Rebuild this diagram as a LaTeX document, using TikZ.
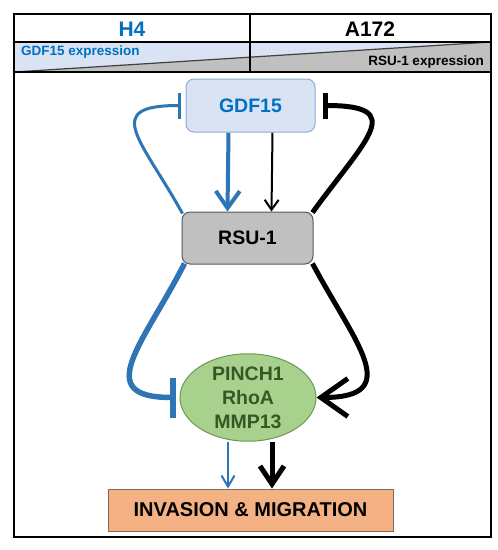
\documentclass[tikz,border=0pt]{standalone}
\usepackage{fontspec}
\setmainfont{Liberation Sans}
\usetikzlibrary{arrows.meta}
\usetikzlibrary{shapes.geometric}
\pgfdeclarelayer{edgelayer}
\pgfdeclarelayer{nodelayer}
\pgfsetlayers{edgelayer,nodelayer,main}
\definecolor{gdfblue}{HTML}{0070C0}
\definecolor{lineblue}{HTML}{2E75B6}
\definecolor{paleblue}{HTML}{DAE3F3}
\definecolor{edgeblue}{HTML}{8FAADC}
\definecolor{hubgray}{HTML}{C0C0C0}
\definecolor{ovalgreen}{HTML}{A9D18E}
\definecolor{ovaledge}{HTML}{6A9A4A}
\definecolor{darkgreen}{HTML}{385723}
\definecolor{salmon}{HTML}{F4B183}
\definecolor{salmonedge}{HTML}{7F6A5A}
\tikzstyle{gene_box}=[rectangle,rounded corners=8pt,fill=paleblue,draw=edgeblue,line width=1pt,minimum width=129pt,minimum height=53pt,text=gdfblue,font=\bfseries\fontsize{19.5}{23}\selectfont]
\tikzstyle{hub_box}=[rectangle,rounded corners=8pt,fill=hubgray,draw=black!65,line width=1pt,minimum width=131pt,minimum height=52pt,font=\bfseries\fontsize{19.5}{23}\selectfont]
\tikzstyle{target_oval}=[ellipse,fill=ovalgreen,draw=ovaledge,line width=1pt,minimum width=136pt,minimum height=81pt,inner sep=0pt,align=center,text=darkgreen,font=\bfseries\fontsize{19.5}{24}\selectfont]
\tikzstyle{outcome_box}=[rectangle,fill=salmon,draw=salmonedge,line width=1pt,minimum width=285pt,minimum height=42pt,font=\bfseries\fontsize{20}{24}\selectfont]
\tikzstyle{cell_label}=[font=\bfseries\fontsize{21}{25}\selectfont]
\tikzstyle{expr_label}=[inner sep=0pt,font=\bfseries\fontsize{13.5}{16}\selectfont]
\tikzstyle{blue_activation}=[draw=lineblue,line width=4pt,-{Straight Barb[length=17pt,width=24pt]}]
\tikzstyle{blue_thin_activation}=[draw=lineblue,line width=2pt,-{Straight Barb[length=11pt,width=13pt]}]
\tikzstyle{black_activation}=[draw=black,line width=2pt,-{Straight Barb[length=10pt,width=14pt]}]
\tikzstyle{black_thick_activation}=[draw=black,line width=5pt,-{Straight Barb[length=18pt,width=24pt]}]
\tikzstyle{black_big_activation}=[draw=black,line width=5pt,-{Straight Barb[length=27pt,width=38pt]}]
\tikzstyle{blue_inhibition}=[draw=lineblue,line width=3pt,-{Bar[width=26pt]}]
\tikzstyle{blue_thick_inhibition}=[draw=lineblue,line width=5.5pt,-{Bar[width=40pt]}]
\tikzstyle{black_inhibition}=[draw=black,line width=5pt,-{Bar[width=26pt]}]

\begin{document}
\begin{tikzpicture}[x=1pt,y=-1pt]
	\useasboundingbox (0,0) rectangle (498,550);
	\begin{pgfonlayer}{edgelayer}
		\fill [paleblue] (14,42) -- (491,42) -- (14,72) -- cycle;
		\fill [hubgray] (14,72) -- (491,42) -- (491,72) -- cycle;
		\draw [black!75, line width=1.2pt] (14,72) -- (491,42);
	\end{pgfonlayer}
	\begin{pgfonlayer}{nodelayer}
		\node [style=cell_label, text=gdfblue] (4) at (132, 29) {H4};
		\node [style=cell_label] (5) at (370, 29) {A172};
		\node [style=expr_label, text=gdfblue, anchor=west] (6) at (21, 52) {GDF15 expression};
		\node [style=expr_label, anchor=east] (7) at (484, 62) {RSU-1 expression};
		\node [style=gene_box] (0) at (250.5, 105.5) {GDF15};
		\node [style=hub_box] (1) at (247.5, 238) {RSU-1};
		\node [style=target_oval] (2) at (248, 397.5) {PINCH1\\RhoA\\MMP13};
		\node [style=outcome_box] (3) at (250.5, 510) {INVASION \& MIGRATION};
	\end{pgfonlayer}
	\begin{pgfonlayer}{edgelayer}
		\draw [style=blue_activation] ([xshift=-22pt]0.south) to ([xshift=-20pt]1.north);
		\draw [style=black_activation] ([xshift=22pt]0.south) to ([xshift=24pt]1.north);
		\draw [style=blue_inhibition, out=119, in=180, looseness=2.00, shorten >=5pt] ([xshift=1pt,yshift=-2pt]1.north west) to (0.west);
		\draw [style=black_inhibition, out=54, in=0, looseness=2.20, shorten >=7pt] ([xshift=-1pt,yshift=-1pt]1.north east) to (0.east);
		\draw [style=blue_thick_inhibition, out=243, in=180, looseness=1.70, shorten >=4pt] ([xshift=3pt,yshift=1pt]1.south west) to (2.west);
		\draw [style=black_big_activation, out=-62, in=0, looseness=1.70] ([xshift=-1pt,yshift=1pt]1.south east) to (2.east);
		\draw [style=blue_thin_activation] ([xshift=-20pt]2.south) to ([xshift=-22.5pt]3.north);
		\draw [style=black_thick_activation] ([xshift=24pt]2.south) to ([xshift=21.5pt]3.north);
	\end{pgfonlayer}
	\draw [line width=2pt] (14,14) rectangle (491,537);
	\draw [line width=2pt] (14,42) -- (491,42);
	\draw [line width=2pt] (14,72) -- (491,72);
	\draw [line width=2pt] (250,14) -- (250,72);
\end{tikzpicture}
\end{document}
